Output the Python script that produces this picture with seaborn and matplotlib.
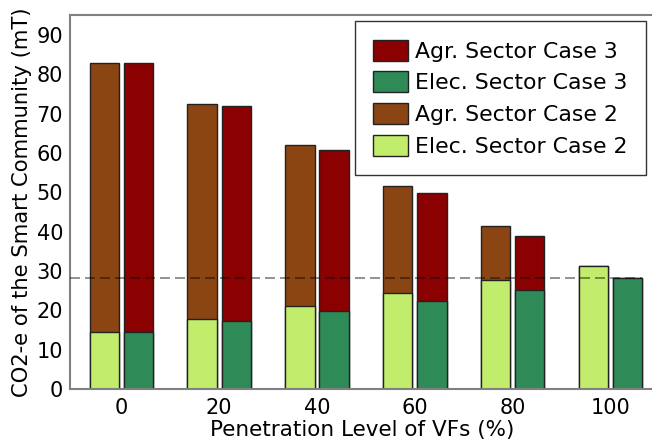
import seaborn as sns
import pandas as pd
import matplotlib.pyplot as plt
from matplotlib.patches import Patch

sns.set_style("white")
plt.rcParams['font.family'] = ['DejaVu Sans']
plt.rcParams['text.color'] = 'black'
plt.rcParams['axes.labelcolor'] = 'black'

# values (mT CO2-e)
levels = ["0", "20", "40", "60", "80", "100"]
elec_case2 = [14.6, 17.9, 21.1, 24.4, 27.8, 31.3]
agr_case2 = [68.2, 54.6, 40.8, 27.2, 13.7, 0.0]
elec_case3 = [14.6, 17.3, 19.9, 22.5, 25.2, 28.2]
agr_case3 = [68.1, 54.5, 40.8, 27.4, 13.8, 0.0]

c_elec2 = "#c1ec6c"
c_agr2 = "#8b4513"
c_elec3 = "#2e8b57"
c_agr3 = "#8b0000"

df = pd.DataFrame({
    "level": levels * 2,
    "case": ["Case 2"] * 6 + ["Case 3"] * 6,
    "elec": elec_case2 + elec_case3,
    "agr": agr_case2 + agr_case3,
})
df["total"] = df["elec"] + df["agr"]

fig = plt.figure(figsize=(6.52, 4.47), dpi=100)
ax = fig.add_axes([70 / 652, 57.7 / 447, 584 / 652, 374.3 / 447])

bar_kw = dict(x="level", hue="case", order=levels, hue_order=["Case 2", "Case 3"],
              width=0.7, gap=0.143, errorbar=None, saturation=1,
              edgecolor="#222222", linewidth=1, legend=False, ax=ax)
# totals first (agr on top), then elec drawn over the bottom part
sns.barplot(data=df, y="total", palette=[c_agr2, c_agr3], **bar_kw)
sns.barplot(data=df, y="elec", palette=[c_elec2, c_elec3], **bar_kw)

# dashed reference at the case 3 / 100% level
baseline = elec_case3[-1] + agr_case3[-1]
last = ax.patches[-1]
ax.hlines(baseline, -0.525, last.get_x() + last.get_width(), colors="black",
          linestyles=(0, (6, 3)), linewidth=1.2, alpha=0.5, zorder=5)

ax.set_xlim(-0.525, 5.445)
ax.set_ylim(0, 95)
ax.set_yticks(range(0, 91, 10))
ax.set_xlabel("Penetration Level of VFs (%)", fontsize=15.5, labelpad=2)
ax.set_ylabel("CO2-e of the Smart Community (mT)", fontsize=15.2, labelpad=3)
ax.tick_params(axis="y", direction="in", length=5, color="#808080",
               labelcolor="black", labelsize=15, pad=5)
ax.tick_params(axis="x", length=0, labelcolor="black", labelsize=15, pad=6)
for s in ax.spines.values():
    s.set_color("#808080")
    s.set_linewidth(1.5)

handles = [Patch(facecolor=c_agr3, edgecolor="#222222"),
           Patch(facecolor=c_elec3, edgecolor="#222222"),
           Patch(facecolor=c_agr2, edgecolor="#222222"),
           Patch(facecolor=c_elec2, edgecolor="#222222")]
labels = ["Agr. Sector Case 3", "Elec. Sector Case 3",
          "Agr. Sector Case 2", "Elec. Sector Case 2"]
leg = fig.legend(handles, labels, loc="upper right",
                 bbox_to_anchor=(646 / 652, 1 - 21 / 447), bbox_transform=fig.transFigure,
                 fontsize=15.8, frameon=True, fancybox=False, framealpha=1,
                 edgecolor="#333333", borderpad=0.85, handlelength=1.6,
                 handleheight=1.1, handletextpad=0.3, labelspacing=0.44,
                 borderaxespad=0)
leg.get_frame().set_linewidth(1)

plt.savefig("out.png", dpi=100)
